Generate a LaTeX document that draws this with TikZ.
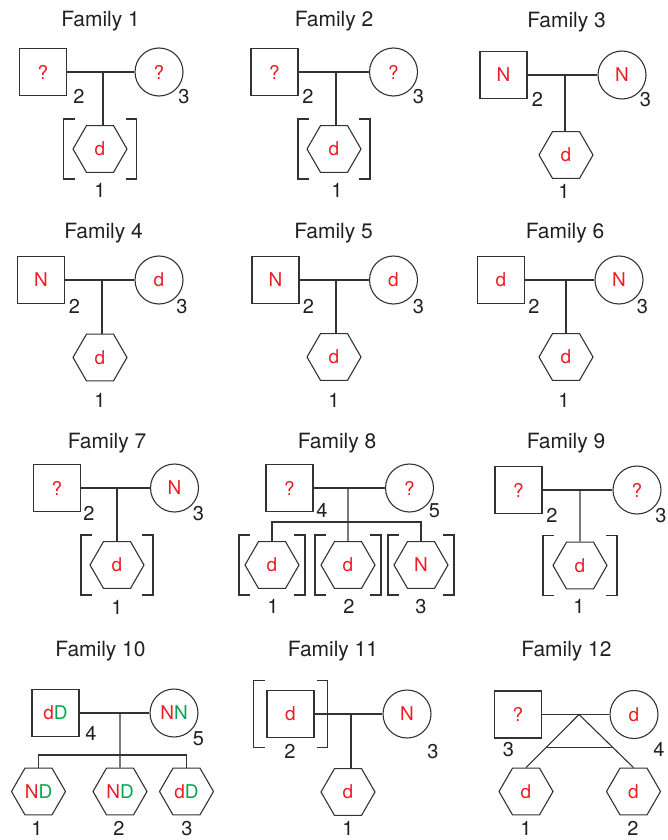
\documentclass[tikz,border=0pt]{standalone}
\usepackage{fontspec}
\setmainfont{TeX Gyre Heros}
\usetikzlibrary{shapes.geometric,calc}
\definecolor{lncol}{HTML}{333333}
\definecolor{txtcol}{HTML}{231F20}
\definecolor{rd}{HTML}{ED1C24}
\definecolor{gr}{HTML}{00A651}
\tikzset{
 ln/.style={draw=lncol, line width=1.1pt},
 inner/.style={text=rd, font=\fontsize{19}{22}\selectfont},
 male/.style={ln, rectangle, minimum size=47pt, inner sep=0pt, inner},
 female/.style={ln, circle, minimum size=48pt, inner sep=0pt, inner},
 hexa/.style={ln, regular polygon, regular polygon sides=6, minimum size=54pt, inner sep=0pt, inner},
 ttl/.style={anchor=base, inner sep=0pt, text=txtcol, font=\fontsize{21}{24}\selectfont},
 num/.style={anchor=base, inner sep=0pt, text=txtcol, font=\fontsize{20}{23}\selectfont},
}
\newcommand{\pbr}[3]{%
 \draw[ln] ($(#1.center)+(-#2+11,-#3)$) -- ++(-11,0) -- ++(0,2*#3) -- ++(11,0);
 \draw[ln] ($(#1.center)+(#2-11,-#3)$) -- ++(11,0) -- ++(0,2*#3) -- ++(-11,0);
}
\begin{document}
\begin{tikzpicture}[x=1pt,y=-1pt]
\useasboundingbox (0,0) rectangle (668,840);

% Family 1
\node[ttl] (t1) at (100.5,27) {Family 1};
\node[male] (f1s) at (43,72) {?};
\node[female] (f1c) at (159,72) {?};
\node[hexa] (f1h) at (100,149) {d};
\coordinate (f1m) at (103,72);
\draw[ln] (f1s) -- (f1c);
\draw[ln] (f1m) -- (f1m |- f1h.north);
\pbr{f1h}{36.5}{30}
\node[num] (f1n2) at (79,103) {2};
\node[num] (f1n3) at (184,103) {3};
\node[num] (f1n1) at (100,197) {1};

% Family 2
\node[ttl] (t2) at (334,27) {Family 2};
\node[male] (f2s) at (274.5,72) {?};
\node[female] (f2c) at (393.5,72) {?};
\node[hexa] (f2h) at (334,149) {d};
\coordinate (f2m) at (336,72);
\draw[ln] (f2s) -- (f2c);
\draw[ln] (f2m) -- (f2m |- f2h.north);
\pbr{f2h}{36}{30}
\node[num] (f2n2) at (308,104) {2};
\node[num] (f2n3) at (418.5,104) {3};
\node[num] (f2n1) at (337,197) {1};

% Family 3
\node[ttl] (t3) at (566.5,28) {Family 3};
\node[male] (f3s) at (503.5,75) {N};
\node[female] (f3c) at (622,75) {N};
\node[hexa] (f3h) at (566,155) {d};
\coordinate (f3m) at (565,75);
\draw[ln] (f3s) -- (f3c);
\draw[ln] (f3m) -- (f3m |- f3h.north);
\node[num] (f3n2) at (537.5,107) {2};
\node[num] (f3n3) at (645.5,107) {3};
\node[num] (f3n1) at (564,198) {1};

% Family 4
\node[ttl] (t4) at (103.5,238) {Family 4};
\node[male] (f4s) at (41,280) {N};
\node[female] (f4c) at (159,280) {d};
\node[hexa] (f4h) at (100,357.5) {d};
\coordinate (f4m) at (102,280);
\draw[ln] (f4s) -- (f4c);
\draw[ln] (f4m) -- (f4m |- f4h.north);
\node[num] (f4n2) at (74.5,313) {2};
\node[num] (f4n3) at (182,313) {3};
\node[num] (f4n1) at (100,407) {1};

% Family 5
\node[ttl] (t5) at (333.5,238) {Family 5};
\node[male] (f5s) at (275.5,280) {N};
\node[female] (f5c) at (393.5,280) {d};
\node[hexa] (f5h) at (334,357) {d};
\coordinate (f5m) at (336,280);
\draw[ln] (f5s) -- (f5c);
\draw[ln] (f5m) -- (f5m |- f5h.north);
\node[num] (f5n2) at (308.5,313) {2};
\node[num] (f5n3) at (418.5,313) {3};
\node[num] (f5n1) at (334,407) {1};

% Family 6
\node[ttl] (t6) at (565,238) {Family 6};
\node[male] (f6s) at (501,280) {d};
\node[female] (f6c) at (619,280) {N};
\node[hexa] (f6h) at (566,357) {d};
\coordinate (f6m) at (566,280);
\draw[ln] (f6s) -- (f6c);
\draw[ln] (f6m) -- (f6m |- f6h.north);
\node[num] (f6n2) at (534,313) {2};
\node[num] (f6n3) at (642.5,313) {3};
\node[num] (f6n1) at (564,407) {1};

% Family 7
\node[ttl] (t7) at (107,448) {Family 7};
\node[male] (f7s) at (57,488) {?};
\node[female] (f7c) at (174.5,488) {N};
\node[hexa] (f7h) at (117,565) {d};
\coordinate (f7m) at (117,488);
\draw[ln] (f7s) -- (f7c);
\draw[ln] (f7m) -- (f7m |- f7h.north);
\pbr{f7h}{36}{30}
\node[num] (f7n2) at (89,520) {2};
\node[num] (f7n3) at (198.5,520) {3};
\node[num] (f7n1) at (117,614) {1};

% Family 8
\node[ttl] (t8) at (337,448) {Family 8};
\node[male] (f8s) at (289.5,488) {?};
\node[female] (f8c) at (409.5,488) {?};
\node[hexa] (f8h1) at (272,565) {d};
\node[hexa] (f8h2) at (348,565) {d};
\node[hexa] (f8h3) at (421,565) {N};
\coordinate (f8m) at (348,488);
\coordinate (f8sib) at (348,522);
\draw[ln] (f8s) -- (f8c);
\draw[ln] (f8m) -- (f8h2.north);
\draw[ln] (f8h1.north) -- (f8h1.north |- f8sib) -- (f8h3.north |- f8sib) -- (f8h3.north);
\pbr{f8h1}{33}{30}
\pbr{f8h2}{33}{30}
\pbr{f8h3}{33}{30}
\node[num] (f8n4) at (322,517) {4};
\node[num] (f8n5) at (434.5,517) {5};
\node[num] (f8n1) at (273,613) {1};
\node[num] (f8n2) at (349,613) {2};
\node[num] (f8n3) at (421,613) {3};

% Family 9
\node[ttl] (t9) at (566,448) {Family 9};
\node[male] (f9s) at (518.5,490) {?};
\node[female] (f9c) at (637,490) {?};
\node[hexa] (f9h) at (580,565.5) {d};
\coordinate (f9m) at (580,490);
\draw[ln] (f9s) -- (f9c);
\draw[ln] (f9m) -- (f9h.north);
\pbr{f9h}{37}{30}
\node[num] (f9n2) at (552,522) {2};
\node[num] (f9n3) at (661,522) {3};
\node[num] (f9n1) at (579,613) {1};

% Family 10
\node[ttl] (t10) at (100.5,656) {Family 10};
\node[male] (f10s) at (55.5,713) {d\textcolor{gr}{D}};
\node[female] (f10c) at (174,713) {N\textcolor{gr}{N}};
\node[hexa] (f10h1) at (38.5,791.5) {N\textcolor{gr}{D}};
\node[hexa] (f10h2) at (120,791.5) {N\textcolor{gr}{D}};
\node[hexa] (f10h3) at (186.5,791.5) {d\textcolor{gr}{D}};
\coordinate (f10m) at (120,713);
\coordinate (f10sib) at (120,755);
\draw[ln] (f10s) -- (f10c);
\draw[ln] (f10m) -- (f10h2.north);
\draw[ln] (f10h1.north) -- (f10h1.north |- f10sib) -- (f10h3.north |- f10sib) -- (f10h3.north);
\node[num] (f10n4) at (91,740) {4};
\node[num] (f10n5) at (198.5,745) {5};
\node[num] (f10n1) at (37,835) {1};
\node[num] (f10n2) at (119,835) {2};
\node[num] (f10n3) at (187,835) {3};

% Family 11
\node[ttl] (t11) at (333,656) {Family 11};
\node[male] (f11s) at (290.5,714) {d};
\node[female] (f11c) at (407,714) {N};
\node[hexa] (f11h) at (348,792) {d};
\coordinate (f11m) at (351,714);
\draw[ln] (f11s) -- (f11c);
\draw[ln] (f11m) -- (f11m |- f11h.north);
\pbr{f11s}{37}{33.5}
\node[num] (f11n2) at (290,758) {2};
\node[num] (f11n3) at (433,758) {3};
\node[num] (f11n1) at (348,835) {1};

% Family 12
\node[ttl] (t12) at (566.5,656) {Family 12};
\node[male] (f12s) at (518,714.5) {?};
\node[female] (f12c) at (634,714.5) {d};
\node[hexa] (f12h1) at (526,791.5) {d};
\node[hexa] (f12h2) at (633.5,791.5) {d};
\coordinate (f12a) at (579,714.5);
\draw[ln] (f12s) -- (f12c);
\draw[ln] (f12h1.north) -- (f12a) -- (f12h2.north);
\draw[ln] ($(f12a)!0.62!(f12h1.north)$) -- ($(f12a)!0.62!(f12h2.north)$);
\node[num] (f12n3) at (508.5,756) {3};
\node[num] (f12n4) at (659,756) {4};
\node[num] (f12n1) at (526,835) {1};
\node[num] (f12n2) at (633,835) {2};
\end{tikzpicture}
\end{document}
